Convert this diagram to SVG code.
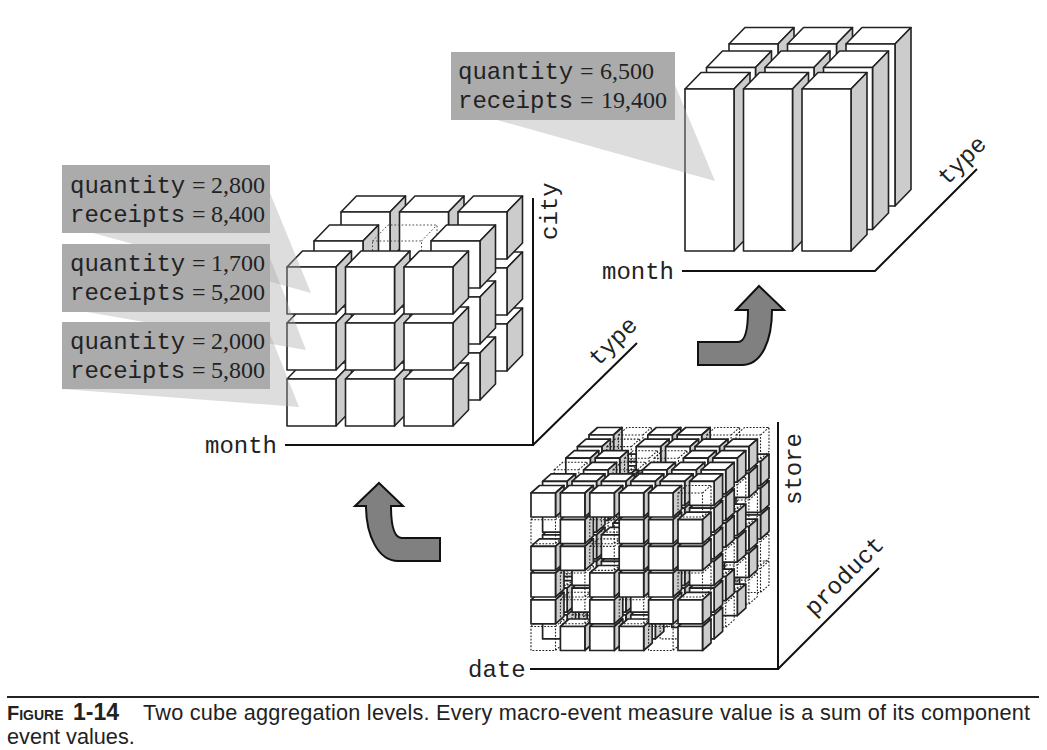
<svg xmlns="http://www.w3.org/2000/svg" width="1047" height="750" viewBox="0 0 1047 750">
<style>
.f{fill:#fff}
.g{fill:#ccc}
.k{stroke:#222;stroke-linejoin:round}
#m,#t{stroke-width:1.6}
#s{stroke-width:1.7}
#d{fill:none;stroke:#222;stroke-width:1.1;stroke-dasharray:1.8 1.5}
.md{fill:none;stroke:#444;stroke-width:1;stroke-dasharray:1.6 2}
.ax{fill:none;stroke:#111;stroke-width:2}
.lb{fill:#ababab}
.wd{fill:#aaa;fill-opacity:.4}
.mono{font-family:"Liberation Mono",monospace;font-size:24px;fill:#222}
.srf{font-family:"Liberation Serif",serif;font-size:24px;fill:#222}
.cap{font-family:"Liberation Sans",Arial,sans-serif;font-size:21.7px;fill:#222}
.arw{fill:#808080;stroke:#111;stroke-width:2;stroke-linejoin:miter}
</style>
<defs>
<g id="m" class="k"><path class="f" d="M0,0L15.5,-16H64.5L49,0Z"/><path class="g" d="M49,0L64.5,-16V31L49,47Z"/><rect class="f" width="49" height="47"/></g>
<g id="t" class="k"><path class="f" d="M0,0L16,-16.5H65L49,0Z"/><path class="g" d="M49,0L65,-16.5V145.5L49,162Z"/><rect class="f" width="49" height="162"/></g>
<g id="s" class="k"><path class="f" d="M0,0L8.5,-7.5H33L24.5,0Z"/><path class="g" d="M24.5,0L33,-7.5V16.5L24.5,24Z"/><rect class="f" width="24.5" height="24"/></g>
<g id="d"><path d="M0,0L8.5,-7.5H33V16.5L24.5,24H0ZM0,0H24.5V24M24.5,0L33,-7.5"/></g>
</defs>

<g id="cube-mid">
<g transform="translate(287,267)">
<g transform="translate(54,-55)"><use href="#m" x="0" y="112"/><use href="#m" x="58.5" y="112"/><use href="#m" x="117" y="112"/><use href="#m" x="0" y="56"/><use href="#m" x="58.5" y="56"/><use href="#m" x="117" y="56"/><use href="#m" x="0" y="0"/><use href="#m" x="58.5" y="0"/><use href="#m" x="117" y="0"/></g>
<g transform="translate(27,-26)"><use href="#m" x="0" y="112"/><use href="#m" x="58.5" y="112"/><use href="#m" x="117" y="112"/><use href="#m" x="0" y="56"/><use href="#m" x="58.5" y="56"/><use href="#m" x="117" y="56"/><use href="#m" x="0" y="0"/><path class="md" transform="translate(58.5,0)" d="M0,0L15.5,-16H64.5V31L49,47H0ZM0,0H49V47M49,0L64.5,-16"/><use href="#m" x="117" y="0"/></g>
<use href="#m" x="0" y="112"/><use href="#m" x="58.5" y="112"/><use href="#m" x="117" y="112"/><use href="#m" x="0" y="56"/><use href="#m" x="58.5" y="56"/><use href="#m" x="117" y="56"/><use href="#m" x="0" y="0"/><use href="#m" x="58.5" y="0"/><use href="#m" x="117" y="0"/>
</g>
</g>

<g id="cube-top">
<g transform="translate(685,89)">
<g transform="translate(44,-45)"><use href="#t" x="0"/><use href="#t" x="58.5"/><use href="#t" x="117"/></g>
<g transform="translate(21.5,-21.5)"><use href="#t" x="0"/><use href="#t" x="58.5"/><use href="#t" x="117"/></g>
<use href="#t" x="0"/><use href="#t" x="58.5"/><use href="#t" x="117"/>
</g>
</g>

<g id="cube-base" transform="translate(531,493)">
<g transform="translate(58,-58)">
<use href="#d" x="0" y="133.5"/><use href="#s" x="29.4" y="133.5"/><use href="#s" x="58.8" y="133.5"/><use href="#d" x="88.2" y="133.5"/><use href="#s" x="117.6" y="133.5"/><use href="#d" x="147" y="133.5"/>
<use href="#s" x="0" y="106.8"/><use href="#s" x="29.4" y="106.8"/><use href="#d" x="58.8" y="106.8"/><use href="#s" x="88.2" y="106.8"/><use href="#s" x="117.6" y="106.8"/><use href="#d" x="147" y="106.8"/>
<use href="#s" x="0" y="80"/><use href="#d" x="29.4" y="80"/><use href="#s" x="58.8" y="80"/><use href="#s" x="88.2" y="80"/><use href="#d" x="117.6" y="80"/><use href="#s" x="147" y="80"/>
<use href="#d" x="0" y="53.4"/><use href="#s" x="29.4" y="53.4"/><use href="#s" x="58.8" y="53.4"/><use href="#d" x="88.2" y="53.4"/><use href="#s" x="117.6" y="53.4"/><use href="#s" x="147" y="53.4"/>
<use href="#s" x="0" y="26.7"/><use href="#s" x="29.4" y="26.7"/><use href="#d" x="58.8" y="26.7"/><use href="#s" x="88.2" y="26.7"/><use href="#s" x="117.6" y="26.7"/><use href="#s" x="147" y="26.7"/>
<use href="#s" x="0" y="0"/><use href="#d" x="29.4" y="0"/><use href="#s" x="58.8" y="0"/><use href="#s" x="88.2" y="0"/><use href="#d" x="117.6" y="0"/><use href="#d" x="147" y="0"/>
</g>
<g transform="translate(46.4,-46.4)">
<use href="#s" x="0" y="133.5"/><use href="#d" x="29.4" y="133.5"/><use href="#s" x="58.8" y="133.5"/><use href="#s" x="88.2" y="133.5"/><use href="#s" x="117.6" y="133.5"/><use href="#d" x="147" y="133.5"/>
<use href="#d" x="0" y="106.8"/><use href="#s" x="29.4" y="106.8"/><use href="#s" x="58.8" y="106.8"/><use href="#s" x="88.2" y="106.8"/><use href="#d" x="117.6" y="106.8"/><use href="#s" x="147" y="106.8"/>
<use href="#s" x="0" y="80"/><use href="#s" x="29.4" y="80"/><use href="#d" x="58.8" y="80"/><use href="#s" x="88.2" y="80"/><use href="#s" x="117.6" y="80"/><use href="#s" x="147" y="80"/>
<use href="#s" x="0" y="53.4"/><use href="#d" x="29.4" y="53.4"/><use href="#s" x="58.8" y="53.4"/><use href="#d" x="88.2" y="53.4"/><use href="#s" x="117.6" y="53.4"/><use href="#d" x="147" y="53.4"/>
<use href="#d" x="0" y="26.7"/><use href="#s" x="29.4" y="26.7"/><use href="#s" x="58.8" y="26.7"/><use href="#s" x="88.2" y="26.7"/><use href="#d" x="117.6" y="26.7"/><use href="#s" x="147" y="26.7"/>
<use href="#s" x="0" y="0"/><use href="#d" x="29.4" y="0"/><use href="#s" x="58.8" y="0"/><use href="#s" x="88.2" y="0"/><use href="#s" x="117.6" y="0"/><use href="#s" x="147" y="0"/>
</g>
<g transform="translate(34.8,-34.8)">
<use href="#d" x="0" y="133.5"/><use href="#s" x="29.4" y="133.5"/><use href="#s" x="58.8" y="133.5"/><use href="#d" x="88.2" y="133.5"/><use href="#s" x="117.6" y="133.5"/><use href="#s" x="147" y="133.5"/>
<use href="#s" x="0" y="106.8"/><use href="#d" x="29.4" y="106.8"/><use href="#s" x="58.8" y="106.8"/><use href="#s" x="88.2" y="106.8"/><use href="#s" x="117.6" y="106.8"/><use href="#d" x="147" y="106.8"/>
<use href="#s" x="0" y="80"/><use href="#s" x="29.4" y="80"/><use href="#d" x="58.8" y="80"/><use href="#s" x="88.2" y="80"/><use href="#d" x="117.6" y="80"/><use href="#s" x="147" y="80"/>
<use href="#d" x="0" y="53.4"/><use href="#s" x="29.4" y="53.4"/><use href="#s" x="58.8" y="53.4"/><use href="#d" x="88.2" y="53.4"/><use href="#s" x="117.6" y="53.4"/><use href="#s" x="147" y="53.4"/>
<use href="#s" x="0" y="26.7"/><use href="#d" x="29.4" y="26.7"/><use href="#s" x="58.8" y="26.7"/><use href="#s" x="88.2" y="26.7"/><use href="#s" x="117.6" y="26.7"/><use href="#d" x="147" y="26.7"/>
<use href="#s" x="0" y="0"/><use href="#s" x="29.4" y="0"/><use href="#d" x="58.8" y="0"/><use href="#d" x="88.2" y="0"/><use href="#s" x="117.6" y="0"/><use href="#s" x="147" y="0"/>
</g>
<g transform="translate(23.2,-23.2)">
<use href="#s" x="0" y="133.5"/><use href="#d" x="29.4" y="133.5"/><use href="#s" x="58.8" y="133.5"/><use href="#d" x="88.2" y="133.5"/><use href="#s" x="117.6" y="133.5"/><use href="#d" x="147" y="133.5"/>
<use href="#s" x="0" y="106.8"/><use href="#s" x="29.4" y="106.8"/><use href="#d" x="58.8" y="106.8"/><use href="#s" x="88.2" y="106.8"/><use href="#s" x="117.6" y="106.8"/><use href="#s" x="147" y="106.8"/>
<use href="#d" x="0" y="80"/><use href="#s" x="29.4" y="80"/><use href="#s" x="58.8" y="80"/><use href="#s" x="88.2" y="80"/><use href="#s" x="117.6" y="80"/><use href="#d" x="147" y="80"/>
<use href="#s" x="0" y="53.4"/><use href="#d" x="29.4" y="53.4"/><use href="#s" x="58.8" y="53.4"/><use href="#s" x="88.2" y="53.4"/><use href="#d" x="117.6" y="53.4"/><use href="#s" x="147" y="53.4"/>
<use href="#s" x="0" y="26.7"/><use href="#s" x="29.4" y="26.7"/><use href="#d" x="58.8" y="26.7"/><use href="#d" x="88.2" y="26.7"/><use href="#s" x="117.6" y="26.7"/><use href="#s" x="147" y="26.7"/>
<use href="#d" x="0" y="0"/><use href="#s" x="29.4" y="0"/><use href="#d" x="58.8" y="0"/><use href="#s" x="88.2" y="0"/><use href="#s" x="117.6" y="0"/><use href="#s" x="147" y="0"/>
</g>
<g transform="translate(11.6,-11.6)">
<use href="#s" x="0" y="133.5"/><use href="#d" x="29.4" y="133.5"/><use href="#s" x="58.8" y="133.5"/><use href="#s" x="88.2" y="133.5"/><use href="#d" x="117.6" y="133.5"/><use href="#s" x="147" y="133.5"/>
<use href="#s" x="0" y="106.8"/><use href="#s" x="29.4" y="106.8"/><use href="#s" x="58.8" y="106.8"/><use href="#s" x="88.2" y="106.8"/><use href="#s" x="117.6" y="106.8"/><use href="#s" x="147" y="106.8"/>
<use href="#d" x="0" y="80"/><use href="#s" x="29.4" y="80"/><use href="#s" x="58.8" y="80"/><use href="#d" x="88.2" y="80"/><use href="#s" x="117.6" y="80"/><use href="#s" x="147" y="80"/>
<use href="#s" x="0" y="53.4"/><use href="#s" x="29.4" y="53.4"/><use href="#s" x="58.8" y="53.4"/><use href="#s" x="88.2" y="53.4"/><use href="#d" x="117.6" y="53.4"/><use href="#s" x="147" y="53.4"/>
<use href="#s" x="0" y="26.7"/><use href="#s" x="29.4" y="26.7"/><use href="#d" x="58.8" y="26.7"/><use href="#s" x="88.2" y="26.7"/><use href="#s" x="117.6" y="26.7"/><use href="#s" x="147" y="26.7"/>
<use href="#s" x="0" y="0"/><use href="#s" x="29.4" y="0"/><use href="#s" x="58.8" y="0"/><use href="#s" x="88.2" y="0"/><use href="#s" x="117.6" y="0"/><use href="#s" x="147" y="0"/>
</g>
<use href="#d" x="0" y="133.5"/><use href="#s" x="29.4" y="133.5"/><use href="#s" x="58.8" y="133.5"/><use href="#s" x="88.2" y="133.5"/><use href="#d" x="117.6" y="133.5"/><use href="#s" x="147" y="133.5"/>
<use href="#s" x="0" y="106.8"/><use href="#d" x="29.4" y="106.8"/><use href="#s" x="58.8" y="106.8"/><use href="#d" x="88.2" y="106.8"/><use href="#s" x="117.6" y="106.8"/><use href="#s" x="147" y="106.8"/>
<use href="#s" x="0" y="80"/><use href="#d" x="29.4" y="80"/><use href="#s" x="58.8" y="80"/><use href="#s" x="88.2" y="80"/><use href="#s" x="117.6" y="80"/><use href="#d" x="147" y="80"/>
<use href="#s" x="0" y="53.4"/><use href="#s" x="29.4" y="53.4"/><use href="#d" x="58.8" y="53.4"/><use href="#s" x="88.2" y="53.4"/><use href="#s" x="117.6" y="53.4"/><use href="#s" x="147" y="53.4"/>
<use href="#d" x="0" y="26.7"/><use href="#s" x="29.4" y="26.7"/><use href="#d" x="58.8" y="26.7"/><use href="#s" x="88.2" y="26.7"/><use href="#s" x="117.6" y="26.7"/><use href="#s" x="147" y="26.7"/>
<use href="#s" x="0" y="0"/><use href="#s" x="29.4" y="0"/><use href="#s" x="58.8" y="0"/><use href="#s" x="88.2" y="0"/><use href="#s" x="117.6" y="0"/><use href="#d" x="147" y="0"/>
</g>

<g id="axes">
<path class="ax" d="M285,445H533V198M533,445L637,343"/>
<path class="ax" d="M682,271H875L977,169"/>
<path class="ax" d="M530,669H778V422M778,669L879,568"/>
<text class="mono" x="205" y="453">month</text>
<text class="mono" x="602" y="279">month</text>
<text class="mono" x="468" y="677">date</text>
<text class="mono" transform="translate(557,240) rotate(-90)">city</text>
<text class="mono" transform="translate(598,367) rotate(-45)">type</text>
<text class="mono" transform="translate(947,186) rotate(-45)">type</text>
<text class="mono" transform="translate(801,505) rotate(-90)">store</text>
<text class="mono" transform="translate(814,617) rotate(-45)">product</text>
</g>

<g id="callouts">
<path class="wd" d="M270,193L311,293L93,233Z"/>
<path class="wd" d="M270,258L306,350L87,312Z"/>
<path class="wd" d="M270,334L299,407L62,389Z"/>
<path class="wd" d="M675,85L715,181L497,120Z"/>
<g id="callout-1"><rect class="lb" x="62" y="165" width="208" height="68"/>
<text y="193"><tspan class="mono" x="70">quantity</tspan><tspan class="srf" x="192">=</tspan><tspan class="srf" x="211">2,800</tspan></text>
<text y="222"><tspan class="mono" x="70">receipts</tspan><tspan class="srf" x="192">=</tspan><tspan class="srf" x="211">8,400</tspan></text></g>
<g id="callout-2"><rect class="lb" x="62" y="244" width="208" height="68"/>
<text y="271"><tspan class="mono" x="70">quantity</tspan><tspan class="srf" x="192">=</tspan><tspan class="srf" x="211">1,700</tspan></text>
<text y="300"><tspan class="mono" x="70">receipts</tspan><tspan class="srf" x="192">=</tspan><tspan class="srf" x="211">5,200</tspan></text></g>
<g id="callout-3"><rect class="lb" x="62" y="322" width="208" height="67"/>
<text y="349"><tspan class="mono" x="70">quantity</tspan><tspan class="srf" x="192">=</tspan><tspan class="srf" x="211">2,000</tspan></text>
<text y="378"><tspan class="mono" x="70">receipts</tspan><tspan class="srf" x="192">=</tspan><tspan class="srf" x="211">5,800</tspan></text></g>
<g id="callout-4"><rect class="lb" x="451" y="52" width="224" height="68"/>
<text y="79"><tspan class="mono" x="458">quantity</tspan><tspan class="srf" x="580">=</tspan><tspan class="srf" x="600">6,500</tspan></text>
<text y="108"><tspan class="mono" x="458">receipts</tspan><tspan class="srf" x="580">=</tspan><tspan class="srf" x="601">19,400</tspan></text></g>
</g>

<g id="arrows">
<path class="arw" d="M379,483L403,506H391C391,525 394,538 402,538H440V561H398C378,561 366,535 366,506H355Z"/>
<path class="arw" d="M759,286L784,310H772C772,340 762,365 742,365H698V342H738C746,342 748,325 748,310H736Z"/>
</g>

<g id="caption">
<path d="M7,697H1039" stroke="#222" stroke-width="2.2"/>
<text class="cap" x="7" y="720" font-weight="700" style="font-size:20px;font-variant:small-caps">Figure</text>
<text class="cap" x="73" y="720" font-weight="700" style="font-size:23px">1-14</text>
<text class="cap" x="143" y="720" textLength="887">Two cube aggregation levels. Every macro-event measure value is a sum of its component</text>
<text class="cap" x="7" y="744">event values.</text>
</g>
</svg>
